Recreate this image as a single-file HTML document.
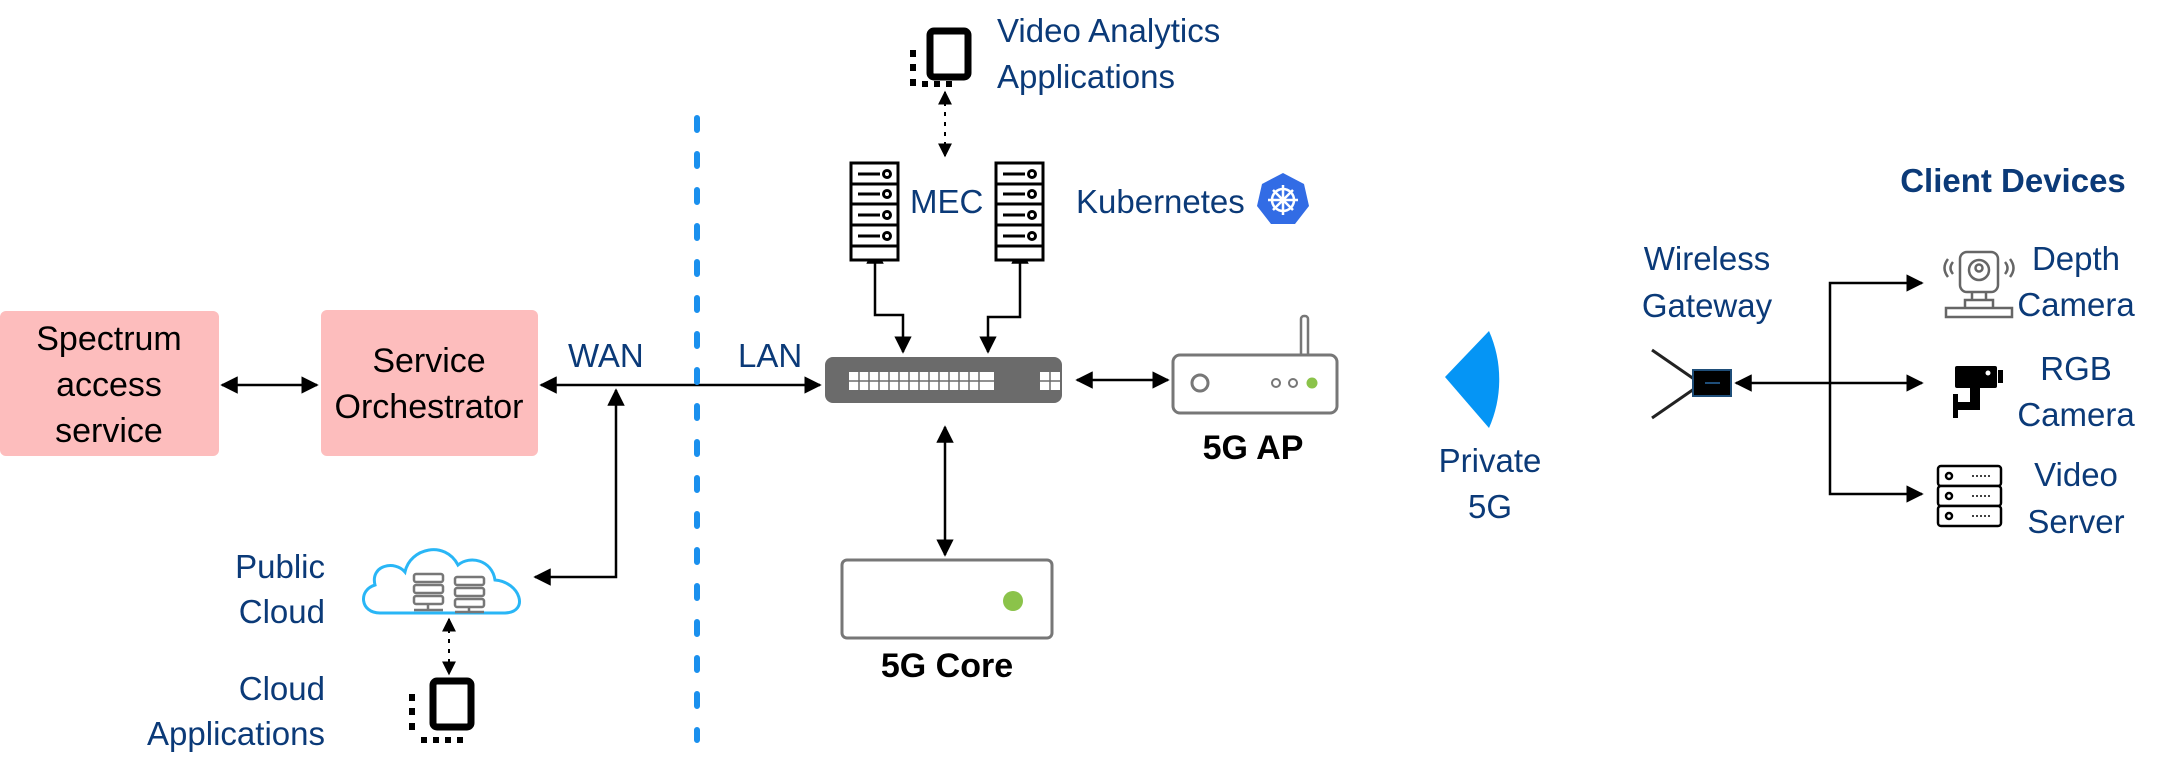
<!DOCTYPE html>
<html><head><meta charset="utf-8"><style>
html,body{margin:0;padding:0;background:#fff;}
svg{display:block;}
.t{font-family:"Liberation Sans",sans-serif;fill:#0b3a78;font-size:33px;}
.b{font-family:"Liberation Sans",sans-serif;fill:#000;font-size:34px;}
</style></head><body>
<svg width="2163" height="768" viewBox="0 0 2163 768" xmlns="http://www.w3.org/2000/svg">
<defs>
<marker id="a" viewBox="0 0 10 10" refX="9" refY="5" markerWidth="7" markerHeight="7" orient="auto-start-reverse"><path d="M0,0L10,5L0,10z" fill="#000"/></marker>
</defs>
<rect x="0" y="311" width="219" height="145" rx="6" fill="#fdbdbd"/>
<rect x="321" y="310" width="217" height="146" rx="6" fill="#fdbdbd"/>
<text class="b" x="109" y="350" text-anchor="middle">Spectrum</text>
<text class="b" x="109" y="396" text-anchor="middle">access</text>
<text class="b" x="109" y="442" text-anchor="middle">service</text>
<text class="b" x="429" y="372" text-anchor="middle">Service</text>
<text class="b" x="429" y="418" text-anchor="middle">Orchestrator</text>
<g stroke="#000" stroke-width="2.5" fill="none">
<line x1="222" y1="385" x2="317" y2="385" marker-start="url(#a)" marker-end="url(#a)"/>
<line x1="541" y1="385" x2="820" y2="385" marker-start="url(#a)" marker-end="url(#a)"/>
<polyline points="535,577 616,577 616,390" marker-start="url(#a)" marker-end="url(#a)"/>
<line x1="1077" y1="380" x2="1168" y2="380" marker-start="url(#a)" marker-end="url(#a)"/>
<line x1="945" y1="427" x2="945" y2="555" marker-start="url(#a)" marker-end="url(#a)"/>
<polyline points="875,248 875,315 903,315 903,352" marker-start="url(#a)" marker-end="url(#a)"/>
<polyline points="1020,248 1020,317 988,317 988,352" marker-start="url(#a)" marker-end="url(#a)"/>
<line x1="1736" y1="383" x2="1922" y2="383" marker-start="url(#a)" marker-end="url(#a)"/>
<polyline points="1922,283 1830,283 1830,494 1922,494" marker-start="url(#a)" marker-end="url(#a)"/>
</g>
<g stroke="#000" stroke-width="2" fill="none" stroke-dasharray="4,6">
<line x1="945" y1="92" x2="945" y2="156" marker-start="url(#a)" marker-end="url(#a)"/>
<line x1="449" y1="619" x2="449" y2="674" marker-start="url(#a)" marker-end="url(#a)"/>
</g>
<line x1="697" y1="118" x2="697" y2="740" stroke="#1a90ee" stroke-width="6" stroke-linecap="round" stroke-dasharray="12,24"/>
<text class="t" x="568" y="367">WAN</text>
<text class="t" x="738" y="367">LAN</text>
<rect x="825" y="357" width="237" height="46" rx="8" fill="#6b6b6b"/>
<g fill="#fff">
<rect x="849" y="372" width="145" height="18"/>
<rect x="1040" y="372" width="20" height="18"/>
</g>
<g stroke="#6b6b6b" stroke-width="1.5">
<line x1="849" y1="381" x2="994" y2="381"/><line x1="1040" y1="381" x2="1060" y2="381"/><line x1="1050" y1="372" x2="1050" y2="390"/>
<path d="M859,372v18M869,372v18M879,372v18M889,372v18M899,372v18M909,372v18M919,372v18M929,372v18M939,372v18M949,372v18M959,372v18M969,372v18M979,372v18"/>
</g>
<rect x="1301" y="316" width="7" height="42" rx="3" fill="#fff" stroke="#777" stroke-width="2.5"/>
<rect x="1173" y="355" width="164" height="58" rx="7" fill="#fff" stroke="#777" stroke-width="3"/>
<circle cx="1200" cy="383" r="8" fill="none" stroke="#777" stroke-width="3"/>
<circle cx="1276" cy="383" r="4" fill="none" stroke="#777" stroke-width="2"/>
<circle cx="1293" cy="383" r="4" fill="none" stroke="#777" stroke-width="2"/>
<circle cx="1312" cy="383" r="5.5" fill="#8bc34a"/>
<text class="b" x="1253" y="459" text-anchor="middle" font-weight="bold" font-size="27">5G AP</text>
<rect x="842" y="560" width="210" height="78" rx="5" fill="#fff" stroke="#777" stroke-width="3"/>
<circle cx="1013" cy="601" r="10" fill="#8bc34a"/>
<text class="b" x="947" y="677" text-anchor="middle" font-weight="bold" font-size="27">5G Core</text>
<g fill="#fff" stroke="#000" stroke-width="3">
<rect x="851" y="163" width="47" height="97"/>
<rect x="996" y="163" width="47" height="97"/>
</g>
<g stroke="#000" stroke-width="3" fill="none">
<path d="M851,184h47M851,204h47M851,225h47M851,246h47M996,184h47M996,204h47M996,225h47M996,246h47"/>
<path d="M858,174h22M858,194h22M858,215h22M858,236h22M1003,174h22M1003,194h22M1003,215h22M1003,236h22"/>
<circle cx="887" cy="174" r="3.5"/><circle cx="887" cy="194" r="3.5"/><circle cx="887" cy="215" r="3.5"/><circle cx="887" cy="236" r="3.5"/>
<circle cx="1032" cy="174" r="3.5"/><circle cx="1032" cy="194" r="3.5"/><circle cx="1032" cy="215" r="3.5"/><circle cx="1032" cy="236" r="3.5"/>
</g>
<text class="t" x="910" y="213">MEC</text>
<text class="t" x="1076" y="213">Kubernetes</text>
<polygon points="1283,173 1304,184 1309,206 1295,224 1271,224 1257,206 1262,184" fill="#326ce5"/>
<g stroke="#fff" stroke-width="2.5" fill="none"><circle cx="1283" cy="200" r="11"/><path d="M1283,185v30M1268,200h30M1273,190l20,20M1293,190l-20,20"/></g>
<rect x="930" y="31" width="38" height="46" rx="4" fill="none" stroke="#000" stroke-width="7"/>
<g fill="#000"><rect x="910" y="50" width="6" height="7"/><rect x="910" y="64" width="6" height="7"/><rect x="910" y="79" width="6" height="7"/><rect x="922" y="81" width="6" height="6"/><rect x="934" y="81" width="6" height="6"/><rect x="946" y="81" width="6" height="6"/></g>
<text class="t" x="997" y="42">Video Analytics</text>
<text class="t" x="997" y="88">Applications</text>
<rect x="433" y="681" width="38" height="46" rx="4" fill="none" stroke="#000" stroke-width="7"/>
<g fill="#000"><rect x="409" y="694" width="6" height="7"/><rect x="409" y="708" width="6" height="7"/><rect x="409" y="723" width="6" height="7"/><rect x="421" y="737" width="6" height="6"/><rect x="433" y="737" width="6" height="6"/><rect x="445" y="737" width="6" height="6"/><rect x="457" y="737" width="6" height="6"/></g>
<path d="M380,613 C360,613 358,590 375,585 C370,565 395,560 405,572 C410,548 445,540 458,565 C470,555 492,560 495,580 C520,582 530,612 505,613 Z" fill="#fff" stroke="#29b6f6" stroke-width="3"/>
<g fill="#fff" stroke="#777" stroke-width="2.5">
<rect x="414" y="574" width="29" height="8" rx="2"/><rect x="414" y="585" width="29" height="8" rx="2"/><rect x="414" y="596" width="29" height="8" rx="2"/>
<rect x="455" y="577" width="29" height="8" rx="2"/><rect x="455" y="588" width="29" height="8" rx="2"/><rect x="455" y="599" width="29" height="8" rx="2"/>
<path d="M428,604v6M414,610h29M469,607v5M455,612h29"/>
</g>
<text class="t" x="325" y="578" text-anchor="end">Public</text>
<text class="t" x="325" y="623" text-anchor="end">Cloud</text>
<text class="t" x="325" y="700" text-anchor="end">Cloud</text>
<text class="t" x="325" y="745" text-anchor="end">Applications</text>
<path d="M1445,377 L1489,331 A120,120 0 0 1 1489,428 Z" fill="#0595f5"/>
<text class="t" x="1490" y="472" text-anchor="middle">Private</text>
<text class="t" x="1490" y="518" text-anchor="middle">5G</text>
<text class="t" x="1707" y="270" text-anchor="middle">Wireless</text>
<text class="t" x="1707" y="317" text-anchor="middle">Gateway</text>
<g stroke="#222" stroke-width="3"><line x1="1652" y1="350" x2="1694" y2="379"/><line x1="1652" y1="418" x2="1694" y2="389"/></g>
<rect x="1693" y="370" width="38" height="26" fill="#000" stroke="#1f4e79" stroke-width="2"/>
<line x1="1705" y1="383" x2="1720" y2="383" stroke="#1f4e79" stroke-width="2"/>
<text class="t" x="2013" y="192" text-anchor="middle" font-weight="bold" font-size="29">Client Devices</text>
<g fill="none" stroke="#666" stroke-width="2.5">
<rect x="1960" y="252" width="38" height="40" rx="7"/>
<circle cx="1979" cy="270" r="10"/><circle cx="1979" cy="268" r="3.5"/>
<path d="M1972,292v8M1986,292v8M1965,300h28v8h-28z M1946,308h66v9h-66z"/>
<path d="M1953,262q-5,6 0,12M1948,259q-7,9 0,18M2005,262q5,6 0,12M2010,259q7,9 0,18"/>
</g>
<text class="t" x="2076" y="270" text-anchor="middle">Depth</text>
<text class="t" x="2076" y="316" text-anchor="middle">Camera</text>
<g fill="#000">
<rect x="1955" y="366" width="42" height="22" rx="2"/>
<rect x="1998" y="370" width="5" height="13"/>
<path d="M1970,388h10v22h-22v8h-5v-24h5v8h12z"/>
</g>
<circle cx="1988" cy="373" r="2.5" fill="#fff"/>
<text class="t" x="2076" y="380" text-anchor="middle">RGB</text>
<text class="t" x="2076" y="426" text-anchor="middle">Camera</text>
<g fill="#fff" stroke="#000" stroke-width="2.5">
<rect x="1938" y="466" width="63" height="20" rx="3"/><rect x="1938" y="486" width="63" height="20" rx="3"/><rect x="1938" y="506" width="63" height="20" rx="3"/>
<circle cx="1949" cy="476" r="3"/><circle cx="1949" cy="496" r="3"/><circle cx="1949" cy="516" r="3"/>
</g>
<g stroke="#000" stroke-width="1.5" stroke-dasharray="2,2"><path d="M1972,476h18M1972,496h18M1972,516h18"/></g>
<text class="t" x="2076" y="486" text-anchor="middle">Video</text>
<text class="t" x="2076" y="533" text-anchor="middle">Server</text>
</svg>
</body></html>
